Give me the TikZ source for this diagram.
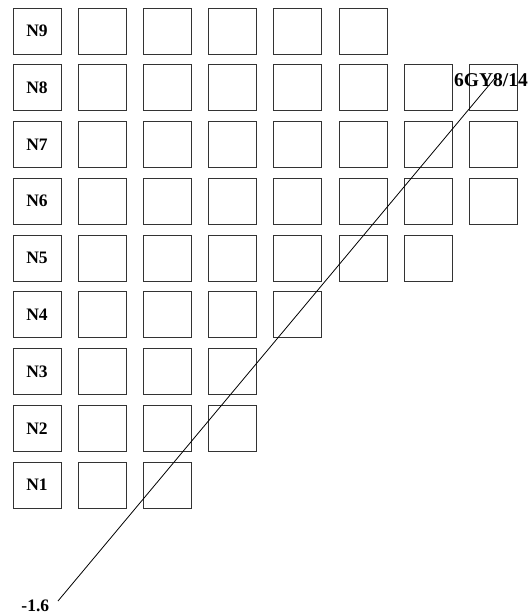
\documentclass[tikz,border=0pt]{standalone}
\usepackage{fontspec}
\setmainfont{Liberation Serif}
\begin{document}
\begin{tikzpicture}[x=1pt,y=-1pt,
  cell/.style={draw=black!80,line width=0.9pt,minimum width=48pt,minimum height=46pt,inner sep=0pt},
  lab/.style={font=\fontsize{17.5}{19}\selectfont\bfseries,inner sep=0pt},
  big/.style={font=\fontsize{19.5}{21}\selectfont\bfseries,inner sep=0pt}]
\useasboundingbox (0,0) rectangle (529,615);
\foreach \r/\n in {0/5,1/7,2/7,3/7,4/6,5/4,6/3,7/3,8/2}{
  \pgfmathtruncatemacro{\lbl}{9-\r}
  \node[cell,lab] (n\lbl) at (37,{31+56.75*\r}) {N\lbl};
  \foreach \c in {1,...,\n}{
    \node[cell] (b\lbl-\c) at ({37+65.2*\c},{31+56.75*\r}) {};
  }
}
\coordinate (lo) at (58,601);
\coordinate (hi) at (495,78);
\draw[line width=0.8pt] (lo) -- (hi);
\node[big,anchor=base] (t1) at (491,86.7) {6GY8/14};
\node[lab,anchor=base] (t2) at (35.3,611.5) {-1.6};
\end{tikzpicture}
\end{document}
